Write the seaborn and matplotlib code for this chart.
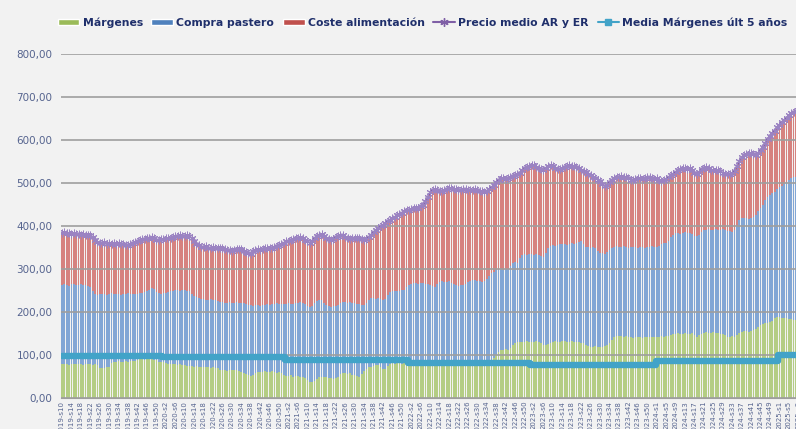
import numpy as np
import pandas as pd
import matplotlib
matplotlib.use("Agg")
import matplotlib.pyplot as plt
from matplotlib.patches import Patch
from matplotlib.lines import Line2D
from matplotlib.ticker import FuncFormatter, MultipleLocator
import seaborn as sns

sns.set_style("white")
plt.rcParams["font.family"] = ["DejaVu Sans"]

# semanas: 2019-s10 ... 2025-s9
anios = [2019, 2020, 2021, 2022, 2023, 2024, 2025]
primera_semana = [10, 1, 1, 1, 1, 1, 1]
semanas_por_anio = [43, 52, 52, 52, 53, 52, 9]
media_margenes_anio = [98.5, 94.5, 89.5, 80.5, 77.0, 87.0, 100.5]

margenes = [
    # 2019
    80, 78, 79, 77, 79, 78, 80, 78, 79, 77, 78, 79, 78, 77, 79, 76, 70, 69, 70, 71, 72,
    82, 84, 83, 85, 84, 83, 85, 84, 86, 85, 87, 89, 90, 91, 89, 90, 91, 90, 89, 88, 84, 83,
    # 2020
    83, 82, 80, 79, 78, 79, 77, 78, 77, 76, 75, 74, 75, 73, 74, 73, 72, 73, 71, 72,
    70, 71, 69, 70, 66, 64, 64, 63, 65, 64, 66, 66, 62, 60, 57, 55, 53, 52, 54, 57,
    60, 61, 60, 62, 61, 60, 62, 61, 59, 60, 57, 54,
    # 2021
    52, 51, 53, 50, 52, 51, 49, 50, 47, 42, 38, 37, 39, 44, 48, 50, 49, 48, 47, 46,
    45, 47, 50, 55, 57, 58, 56, 57, 54, 53, 51, 50, 55, 62, 68, 71, 73, 75, 77, 76,
    72, 68, 67, 75, 79, 81, 80, 82, 81, 80, 82, 81,
    # 2022
    82, 81, 80, 82, 81, 80, 79, 78, 76, 78, 80, 81, 82, 81, 80, 81, 82, 81, 80, 79,
    77, 76, 78, 80, 81, 82, 81, 80, 81, 82, 81, 80, 81, 82, 84, 88, 94, 101, 107, 111,
    112, 113, 112, 116, 124, 128, 130, 131, 130, 131, 132, 130,
    # 2023
    131, 130, 132, 130, 127, 124, 123, 125, 129, 131, 132, 130, 131, 133, 132, 131, 130, 132,
    131, 130, 131, 129, 127, 124, 121, 119, 118, 120, 119, 118, 119, 120, 124, 128, 135, 141,
    144, 145, 144, 143, 144, 142, 141, 140, 141, 142, 141, 140, 142, 143, 142, 143, 142,
    # 2024
    143, 142, 144, 143, 145, 144, 147, 149, 150, 151, 149, 150, 152, 150, 149, 151, 147, 143,
    146, 150, 152, 153, 151, 152, 153, 151, 152, 150, 149, 146, 143, 142, 144, 143, 146, 151,
    154, 155, 156, 154, 155, 157, 160, 165, 170, 173, 175, 174, 176, 180, 186, 189,
    # 2025
    188, 186, 185, 186, 184, 183, 182, 181, 180,
]

compra_pastero = [
    # 2019
    182, 186, 184, 184, 185, 187, 183, 184, 185, 186, 184, 181, 180, 173, 162, 164, 172, 172,
    173, 169, 170, 162, 157, 160, 157, 156, 160, 156, 160, 156, 158, 154, 153, 154, 154, 157,
    158, 161, 166, 165, 158, 160, 160,
    # 2020
    162, 162, 166, 170, 172, 173, 174, 172, 175, 175, 175, 175, 168, 165, 161, 160, 159, 157,
    158, 156, 160, 158, 159, 156, 158, 159, 158, 158, 158, 158, 155, 157, 160, 161, 163, 163,
    164, 164, 161, 160, 156, 154, 157, 154, 157, 157, 157, 157, 161, 159, 161, 165,
    # 2021
    167, 169, 165, 169, 169, 171, 174, 171, 171, 172, 174, 178, 181, 181, 180, 177, 173, 168,
    166, 166, 169, 166, 166, 166, 166, 166, 166, 166, 167, 167, 168, 168, 162, 154, 154, 157,
    159, 158, 154, 156, 158, 161, 163, 165, 168, 168, 170, 166, 168, 171, 170, 177,
    # 2022
    180, 185, 187, 186, 185, 187, 189, 188, 188, 184, 180, 178, 184, 189, 191, 188, 188, 190,
    188, 185, 185, 185, 185, 182, 185, 188, 192, 194, 194, 191, 190, 190, 190, 194, 200, 202,
    200, 196, 193, 188, 186, 186, 189, 192, 190, 188, 185, 194, 202, 203, 201, 205,
    # 2023
    203, 203, 203, 202, 203, 205, 215, 223, 224, 224, 222, 226, 226, 226, 226, 225, 228, 228,
    228, 231, 231, 235, 231, 228, 230, 231, 234, 229, 224, 220, 218, 216, 216, 217, 215, 211,
    209, 206, 208, 210, 208, 208, 210, 212, 210, 208, 210, 212, 208, 208, 210, 210, 210,
    # 2024
    209, 212, 214, 217, 216, 222, 227, 231, 233, 233, 233, 234, 233, 233, 235, 230, 230, 233,
    234, 236, 238, 238, 241, 238, 238, 242, 239, 240, 243, 244, 246, 246, 243, 247, 256, 263,
    264, 264, 262, 263, 264, 263, 266, 269, 271, 277, 285, 294, 297, 297, 294, 296,
    # 2025
    302, 308, 313, 317, 324, 329, 332, 334, 336,
]

precio_medio = [
    # 2019
    384, 385, 383, 384, 382, 383, 381, 382, 380, 381, 379, 380, 378, 375, 368, 363, 361, 360,
    362, 359, 361, 358, 360, 359, 361, 358, 357, 356, 356, 358, 360, 362, 364, 367, 369, 370,
    372, 373, 375, 371, 367, 368, 370,
    # 2020
    370, 372, 371, 373, 375, 376, 377, 378, 376, 377, 378, 376, 372, 365, 358, 355, 352, 351,
    353, 348, 349, 351, 350, 348, 350, 349, 347, 345, 344, 343, 345, 347, 346, 347, 343, 340,
    337, 336, 341, 344, 346, 345, 347, 348, 349, 350, 350, 352, 354, 356, 358, 361,
    # 2021
    364, 366, 368, 370, 372, 373, 374, 372, 368, 364, 361, 366, 372, 377, 380, 381, 377, 372,
    369, 367, 370, 374, 377, 379, 378, 375, 372, 370, 371, 372, 373, 371, 370, 368, 370, 375,
    380, 386, 391, 395, 399, 403, 407, 411, 415, 418, 421, 425, 428, 431, 435, 437,
    # 2022
    438, 440, 441, 443, 443, 446, 450, 457, 468, 478, 484, 486, 483, 482, 482, 484, 486, 488,
    488, 487, 485, 484, 484, 486, 485, 484, 483, 484, 485, 484, 482, 481, 480, 482, 486, 490,
    495, 502, 508, 511, 512, 510, 511, 514, 517, 519, 520, 524, 530, 534, 537, 540,
    # 2023
    542, 541, 538, 535, 532, 530, 535, 540, 542, 539, 536, 533, 532, 535, 538, 540, 541, 539,
    540, 538, 535, 531, 529, 525, 521, 518, 515, 512, 508, 504, 497, 492, 496, 503, 508, 512,
    514, 515, 516, 515, 514, 511, 508, 507, 509, 511, 512, 510, 511, 513, 514, 512, 510,
    # 2024
    512, 508, 504, 506, 510, 514, 518, 522, 526, 530, 533, 534, 535, 533, 534, 530, 524, 520,
    526, 532, 536, 537, 534, 531, 530, 531, 530, 527, 524, 522, 520, 521, 523, 528, 540, 552,
    560, 565, 568, 569, 570, 568, 566, 570, 577, 584, 594, 603, 610, 616, 622, 630,
    # 2025
    636, 642, 647, 652, 657, 662, 665, 668, 670,
]

VERDE = "#b4cd84"
AZUL = "#82a6d5"
ROJO = "#d6827f"
MORADO = "#7f5fa6"
TURQUESA = "#42a3c8"
TEXTO = "#1f2f6b"
EJES = "#56648f"
FONDO = "#f2f2f2"

semanas = [f"{a}-s{s}" for a, s0, n in zip(anios, primera_semana, semanas_por_anio)
           for s in range(s0, s0 + n)]

df = pd.DataFrame({
    "semana": semanas,
    "margenes": margenes,
    "compra": compra_pastero,
    "precio": precio_medio,
})
df["pos"] = np.arange(len(df))
df["coste"] = df["precio"] - df["margenes"] - df["compra"]
df["tope_compra"] = df["margenes"] + df["compra"]
df["tope_coste"] = df["tope_compra"] + df["coste"]
df["media"] = np.repeat(media_margenes_anio, semanas_por_anio)
n = len(df)

fig = plt.figure(figsize=(7.96, 4.29), dpi=100, facecolor=FONDO)
paso = 2.36 / 796
ax = fig.add_axes([60.8 / 796, 31 / 429, n * paso, 344 / 429])
ax.set_facecolor(FONDO)

# barras apiladas: se dibuja el total y encima cada capa inferior
for col, color in [("tope_coste", ROJO), ("tope_compra", AZUL), ("margenes", VERDE)]:
    sns.barplot(data=df, x="pos", y=col, color=color, saturation=1, width=0.72,
                errorbar=None, linewidth=0, ax=ax, zorder=1)

sns.lineplot(data=df, x="pos", y="media", color=TURQUESA, lw=4.6,
             drawstyle="steps-mid", ax=ax, zorder=4)
sns.lineplot(data=df, x="pos", y="precio", color=MORADO, lw=1.3,
             marker=(6, 2, 0), markersize=5.5, markeredgewidth=0.7,
             markeredgecolor="#9b83c2", ax=ax, zorder=5)

ax.set_xlim(-0.5, n - 0.5)
ax.set_ylim(0, 800)
ax.yaxis.set_major_locator(MultipleLocator(100))
ax.yaxis.set_major_formatter(FuncFormatter(lambda v, p: f"{v:.2f}".replace(".", ",")))
ax.set_axisbelow(False)
ax.grid(axis="y", color="#9e9e9e", lw=1.2, zorder=3)
ax.grid(axis="x", visible=False)
ticks = list(range(0, n, 4))
ax.set_xticks(ticks)
ax.set_xticklabels([semanas[i] for i in ticks], rotation=90, fontsize=5.0, color=EJES)
ax.tick_params(axis="y", labelsize=7.5, labelcolor=EJES, length=0, pad=6)
ax.tick_params(axis="x", length=0, pad=2)
ax.set_xlabel("")
ax.set_ylabel("")
sns.despine(ax=ax, left=True, top=True, right=True, bottom=False)
ax.spines["bottom"].set_color("#9e9e9e")

handles = [
    Patch(facecolor="#9bbb59"),
    Patch(facecolor="#4f81bd"),
    Patch(facecolor="#c0504d"),
    Line2D([], [], color=MORADO, lw=1.5, marker=(6, 2, 0), markersize=6),
    Line2D([], [], color=TURQUESA, lw=1.5, marker="s", markersize=4),
]
labels = ["Márgenes", "Compra pastero", "Coste alimentación",
          "Precio medio AR y ER", "Media Márgenes últ 5 años"]
fig.legend(handles, labels, loc="center", bbox_to_anchor=(0.531, 0.948), ncol=5,
           frameon=False, prop={"weight": "bold", "size": 7.8}, labelcolor=TEXTO,
           handlelength=2.0, handleheight=0.5, handletextpad=0.3, columnspacing=0.8)

fig.savefig("out.png", dpi=100, facecolor=FONDO)
